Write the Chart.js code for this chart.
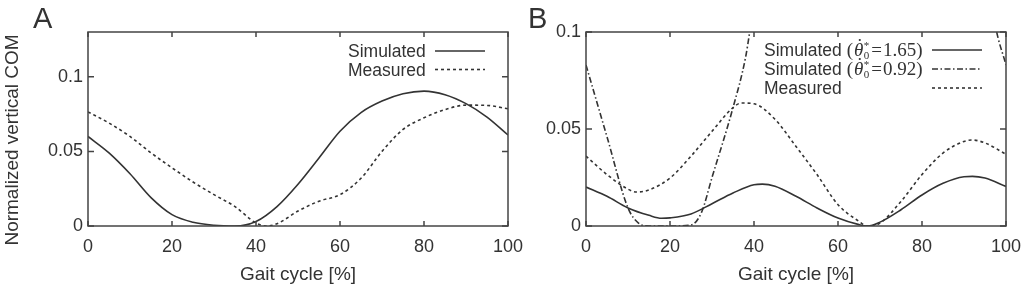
<!DOCTYPE html>
<html>
<head>
<meta charset="utf-8">
<script src="https://cdn.jsdelivr.net/npm/chart.js@4.4.1/dist/chart.umd.min.js"></script>
<style>
  html, body { margin: 0; padding: 0; background: #fff; }
  body { width: 1023px; height: 284px; position: relative; overflow: hidden; }
  .panel { position: absolute; top: 0; height: 284px; }
  #panelA { left: 0; width: 530px; }
  #panelB { left: 530px; width: 493px; }
</style>
</head>
<body>
<div class="panel" id="panelA"><canvas id="chartA"></canvas></div>
<div class="panel" id="panelB"><canvas id="chartB"></canvas></div>
<script>
// panel A - gait cycle positions (%) and normalized vertical COM
const gaitA = [0, 5, 10, 15, 20, 25, 30, 35, 40, 45, 50, 55, 60, 65, 70, 75, 80, 85, 90, 95, 100];
const simA = [0.060, 0.049, 0.035, 0.019, 0.0076, 0.0025, 0.0005, 0.0, 0.003, 0.013, 0.028, 0.0456, 0.0635, 0.076, 0.0837, 0.0886, 0.0904, 0.088, 0.082, 0.073, 0.061];
const gaitMeasA = [0, 5, 10, 15, 20, 25, 30, 35, 40, 42.5, 45, 50, 55, 60, 65, 70, 75, 80, 85, 90, 95, 100];
const measA = [0.0765, 0.069, 0.060, 0.049, 0.039, 0.0295, 0.021, 0.013, 0.002, 0.0, 0.0015, 0.010, 0.0166, 0.021, 0.032, 0.050, 0.0647, 0.0725, 0.078, 0.081, 0.0808, 0.0785];

// panel B
const gaitSimB = [0, 5, 10, 15, 18, 20, 25, 30, 35, 40, 42, 45, 50, 55, 60, 65, 67, 70, 75, 80, 85, 90, 92, 95, 100];
const simB165 = [0.0201, 0.0153, 0.0093, 0.0055, 0.0040, 0.0042, 0.0062, 0.0115, 0.017, 0.0213, 0.0216, 0.0205, 0.0153, 0.0093, 0.0041, 0.0007, 0.0, 0.002, 0.0084, 0.016, 0.022, 0.0254, 0.0256, 0.0247, 0.0204];
const gaitSim092 = [0, 5, 10, 12.5, 15, 20, 25, 27.5, 30, 35, 38, 40, 50, 75, 90, 95, 97.5, 100];
const simB092 = [0.083, 0.046, 0.0093, 0.0015, 0.0, 0.0, 0.0005, 0.007, 0.025, 0.061, 0.087, 0.114, 0.2, 0.26, 0.2, 0.14, 0.103, 0.083];
const gaitMeasB = [0, 5, 10, 12, 15, 20, 25, 30, 35, 37, 40, 45, 50, 55, 60, 65, 67, 70, 75, 80, 85, 90, 92, 95, 100];
const measB = [0.036, 0.0265, 0.019, 0.0175, 0.0186, 0.0247, 0.036, 0.0488, 0.061, 0.0634, 0.063, 0.055, 0.041, 0.0265, 0.011, 0.0024, 0.0, 0.0015, 0.0127, 0.0265, 0.0376, 0.0436, 0.0443, 0.0428, 0.037];

const xTicks = [0, 20, 40, 60, 80, 100];
const yTicksA = [0, 0.05, 0.1];
const yTicksB = [0, 0.05, 0.1];

const ink = '#333';
const dotted = [3, 3];
const dashDot = [6, 2.5, 1.5, 2.5];

Chart.defaults.font.family = "'Liberation Sans', Arial, sans-serif";
Chart.defaults.color = ink;
Chart.defaults.animation = false;

function pts(xs, ys) {
    return xs.map((x, i) => ({ x: x, y: ys[i] }));
}

function lineSet(label, xs, ys, dash) {
    return {
        label: label,
        data: pts(xs, ys),
        borderColor: ink,
        borderWidth: 1.6,
        borderDash: dash,
        pointRadius: 0,
        fill: false,
        cubicInterpolationMode: 'monotone'
    };
}

function makeScales(yMax, yTicks, yWidth) {
    return {
        x: {
            type: 'linear', min: 0, max: 100,
            afterBuildTicks: s => { s.ticks = xTicks.map(v => ({ value: v })); },
            // fixed height, and no extra room asked for the end labels
            afterFit: s => { s.height = 58; s.paddingLeft = 0; s.paddingRight = 0; },
            grid: { display: false, drawTicks: false },
            border: { display: false },
            ticks: { padding: 10, font: { size: 18 }, maxRotation: 0 },
            title: { display: true, text: 'Gait cycle [%]', font: { size: 19, lineHeight: 1 }, padding: 0 }
        },
        y: {
            type: 'linear', min: 0, max: yMax,
            afterBuildTicks: s => { s.ticks = yTicks.map(v => ({ value: v })); },
            afterFit: s => { s.width = yWidth; s.paddingTop = 0; s.paddingBottom = 0; },
            grid: { display: false, drawTicks: false },
            border: { display: false },
            ticks: { padding: 5, font: { size: 18 }, callback: v => String(+v.toFixed(2)) }
        }
    };
}

// box round the plot with inward ticks on all four sides
const framePlugin = {
    id: 'frame',
    afterDatasetsDraw(chart) {
        const { ctx, chartArea: a, scales: { x, y } } = chart;
        ctx.save();
        ctx.strokeStyle = '#444';
        ctx.lineWidth = 1.5;
        ctx.strokeRect(a.left, a.top, a.right - a.left, a.bottom - a.top);
        ctx.beginPath();
        x.ticks.forEach(t => {
            const px = x.getPixelForValue(t.value);
            ctx.moveTo(px, a.bottom); ctx.lineTo(px, a.bottom - 5);
            ctx.moveTo(px, a.top); ctx.lineTo(px, a.top + 5);
        });
        y.ticks.forEach(t => {
            const py = y.getPixelForValue(t.value);
            ctx.moveTo(a.left, py); ctx.lineTo(a.left + 6, py);
            ctx.moveTo(a.right, py); ctx.lineTo(a.right - 6, py);
        });
        ctx.stroke();
        ctx.restore();
    }
};

function sample(ctx, x1, x2, y, dash) {
    ctx.save();
    ctx.strokeStyle = ink;
    ctx.lineWidth = 1.6;
    ctx.setLineDash(dash);
    ctx.beginPath();
    ctx.moveTo(x1, y); ctx.lineTo(x2, y);
    ctx.stroke();
    ctx.restore();
}

// "Simulated (θ̇*0=v)" with the math part in serif
function thetaLabel(ctx, x, y, value) {
    ctx.font = "17.5px 'Liberation Sans'";
    ctx.fillText('Simulated ', x, y);
    x += ctx.measureText('Simulated ').width;
    ctx.font = "19px 'Liberation Serif'";
    ctx.fillText('(', x, y);
    x += ctx.measureText('(').width + 1;
    ctx.font = "italic 19px 'Liberation Serif'";
    ctx.fillText('θ', x, y);
    const tw = ctx.measureText('θ').width;
    ctx.beginPath();
    ctx.arc(x + tw * 0.62, y - 16, 1.1, 0, Math.PI * 2);
    ctx.fill();
    x += tw;
    ctx.font = "11px 'Liberation Serif'";
    ctx.fillText('*', x + 0.5, y - 7);
    ctx.fillText('0', x + 0.5, y + 3);
    x += 7;
    ctx.font = "19px 'Liberation Serif'";
    ctx.fillText('=', x + 1, y);
    x += ctx.measureText('=').width + 2;
    ctx.fillText(value + ')', x, y);
}

const decorA = {
    id: 'decorA',
    afterDraw(chart) {
        const { ctx, chartArea: a } = chart;
        ctx.save();
        ctx.fillStyle = ink;
        ctx.textBaseline = 'alphabetic';
        ctx.font = "29px 'Liberation Sans'";
        ctx.fillText('A', 33, 28);
        ctx.font = "17.5px 'Liberation Sans'";
        ctx.fillText('Simulated', a.right - 160, a.top + 25);
        ctx.fillText('Measured', a.right - 160, a.top + 43.5);
        sample(ctx, a.right - 73, a.right - 23, a.top + 19, []);
        sample(ctx, a.right - 73, a.right - 23, a.top + 37.5, dotted);
        ctx.translate(13, 140);
        ctx.rotate(-Math.PI / 2);
        ctx.textAlign = 'center';
        ctx.textBaseline = 'middle';
        ctx.font = "19px 'Liberation Sans'";
        ctx.fillText('Normalized vertical COM', 0, 0);
        ctx.restore();
    }
};

const decorB = {
    id: 'decorB',
    afterDraw(chart) {
        const { ctx, chartArea: a } = chart;
        ctx.save();
        ctx.fillStyle = ink;
        ctx.textBaseline = 'alphabetic';
        ctx.font = "29px 'Liberation Sans'";
        ctx.fillText('B', -2, 28);
        const tx = a.right - 242;
        thetaLabel(ctx, tx, a.top + 24, '1.65');
        thetaLabel(ctx, tx, a.top + 43, '0.92');
        ctx.font = "17.5px 'Liberation Sans'";
        ctx.fillText('Measured', tx, a.top + 62);
        sample(ctx, a.right - 74, a.right - 24, a.top + 18, []);
        sample(ctx, a.right - 74, a.right - 24, a.top + 37, dashDot);
        sample(ctx, a.right - 74, a.right - 24, a.top + 56, dotted);
        ctx.restore();
    }
};

new Chart(document.getElementById('chartA'), {
    type: 'line',
    data: {
        datasets: [
            lineSet('Simulated', gaitA, simA, []),
            lineSet('Measured', gaitMeasA, measA, dotted)
        ]
    },
    options: {
        responsive: true,
        maintainAspectRatio: false,
        layout: { padding: { top: 32, right: 22, bottom: 0, left: 0 } },
        plugins: { legend: { display: false }, tooltip: { enabled: false } },
        scales: makeScales(0.13, yTicksA, 88)
    },
    plugins: [framePlugin, decorA]
});

new Chart(document.getElementById('chartB'), {
    type: 'line',
    data: {
        datasets: [
            lineSet('Simulated 1.65', gaitSimB, simB165, []),
            lineSet('Simulated 0.92', gaitSim092, simB092, dashDot),
            lineSet('Measured', gaitMeasB, measB, dotted)
        ]
    },
    options: {
        responsive: true,
        maintainAspectRatio: false,
        layout: { padding: { top: 32, right: 17, bottom: 0, left: 0 } },
        plugins: { legend: { display: false }, tooltip: { enabled: false } },
        scales: makeScales(0.1, yTicksB, 56)
    },
    plugins: [framePlugin, decorB]
});
</script>
</body>
</html>
